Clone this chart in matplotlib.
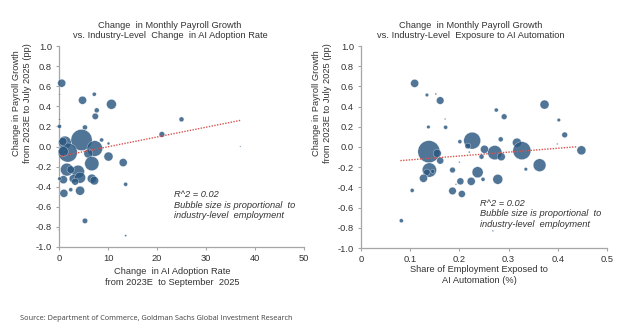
import matplotlib
matplotlib.use("Agg")
import matplotlib.pyplot as plt
import numpy as np

plt.rcParams['font.family'] = ['Liberation Sans', 'DejaVu Sans']

# ---------------- data ----------------
# Left panel: change in AI adoption rate (pp) vs change in payroll growth (pp)
adopt_x = [0.55, 4.8, 7.2, 10.7, 7.7, 7.4, 25.0, 21.0, 5.3, 0.1, 0.1, 0.1, 37.0,
           1.2, 4.6, 7.3, 1.8, 0.9, 6.0, 6.7, 1.6, 3.9, 10.1, 13.1, 6.7, 7.2, 0.9,
           2.9, 4.3, 2.4, 0.8, 8.7, 10.1, 0.1, 13.6, 1.0, 2.4, 4.3, 5.3, 13.6, 0.05, 3.3]
adopt_y = [0.63, 0.46, 0.52, 0.42, 0.36, 0.30, 0.27, 0.12, 0.19, 0.20, 0.27, 0.52, 0.0,
           0.04, 0.065, -0.02, -0.06, -0.05, -0.07, -0.17, -0.23, -0.25, -0.10, -0.16, -0.32, -0.34, -0.33,
           -0.32, -0.31, -0.23, 0.05, 0.065, 0.03, -0.32, -0.376, -0.466, -0.43, -0.44, -0.74, -0.887, -0.83, -0.35]
adopt_emp = [0.8, 0.8, 0.2, 1.2, 0.3, 0.5, 0.3, 0.4, 0.3, 0.2, 0.03, 0.03, 0.02,
             2.0, 5.5, 3.0, 4.5, 1.2, 1.0, 2.5, 2.0, 2.0, 1.0, 0.8, 1.0, 0.9, 0.8,
             0.8, 1.5, 0.7, 0.8, 0.2, 0.1, 0.15, 0.2, 0.8, 0.2, 1.0, 0.35, 0.05, 0.03, 0.6]
adopt_trend_x = [0.0, 37.0]
adopt_trend_y = [-0.10, 0.26]

# Right panel: share of employment exposed to AI automation vs change in payroll growth
expo_x = [0.109, 0.134, 0.152, 0.161, 0.171, 0.137, 0.172, 0.275, 0.291, 0.373, 0.402, 0.414,
          0.399, 0.448, 0.138, 0.226, 0.201, 0.217, 0.22, 0.251, 0.272, 0.285, 0.317, 0.327,
          0.284, 0.245, 0.155, 0.161, 0.20, 0.363, 0.139, 0.134, 0.127, 0.146, 0.186, 0.237,
          0.248, 0.224, 0.202, 0.193, 0.278, 0.186, 0.205, 0.104, 0.082, 0.268, 0.335]
expo_y = [0.63, 0.515, 0.525, 0.46, 0.277, 0.198, 0.195, 0.366, 0.30, 0.42, 0.267, 0.12,
          0.03, -0.033, -0.046, 0.063, 0.053, 0.01, -0.05, -0.023, -0.056, -0.096, 0.043, -0.036,
          0.076, -0.096, -0.063, -0.135, -0.15, -0.18, -0.228, -0.25, -0.31, -0.24, -0.228, -0.25,
          -0.32, -0.34, -0.34, -0.37, -0.32, -0.435, -0.465, -0.43, -0.73, -0.83, -0.22]
expo_emp = [0.8, 0.15, 0.04, 0.7, 0.03, 0.15, 0.2, 0.2, 0.4, 1.0, 0.15, 0.4,
            0.03, 1.0, 6.0, 3.5, 0.2, 0.4, 0.04, 0.8, 2.5, 0.8, 1.0, 4.0,
            0.3, 0.3, 0.8, 0.6, 0.03, 2.0, 2.5, 0.5, 0.8, 0.2, 0.4, 1.5,
            0.2, 0.8, 0.6, 0.03, 1.2, 0.7, 0.6, 0.2, 0.2, 0.03, 0.15]
expo_trend_x = [0.08, 0.44]
expo_trend_y = [-0.135, 0.003]

y_ticks = [1.0, 0.8, 0.6, 0.4, 0.2, 0.0, -0.2, -0.4, -0.6, -0.8, -1.0]
adopt_ticks = [0, 10, 20, 30, 40, 50]
expo_ticks = [0, 0.1, 0.2, 0.3, 0.4, 0.5]
expo_tick_labels = ['0', '0.1', '0.2', '0.3', '0.4', '0.5']

# ---------------- figure ----------------
W, H = 624, 332
fig = plt.figure(figsize=(W / 100, H / 100), dpi=100)
fig.patch.set_facecolor('white')

BUBBLE = '#2a5780'
TXT = '#333333'
SPINE = '#a6a6a6'
FS = 6.7
SCALE = 42


def fx(px):
    return px / W


def fy(py):
    return 1 - py / H


def style(ax, xlim, xticks, xlabels):
    ax.set_xlim(*xlim)
    ax.set_ylim(-1.0, 1.0)
    ax.set_yticks(y_ticks)
    ax.set_yticklabels([f'{v:.1f}' for v in y_ticks])
    ax.set_xticks(xticks)
    ax.set_xticklabels(xlabels)
    for s in ['top', 'right']:
        ax.spines[s].set_visible(False)
    for s in ['left', 'bottom']:
        ax.spines[s].set_color(SPINE)
        ax.spines[s].set_linewidth(0.9)
    ax.tick_params(axis='both', colors=SPINE, labelcolor=TXT, labelsize=FS,
                   length=2.5, width=0.8, pad=2.5)


ax1 = fig.add_axes([fx(59), fy(247), fx(245), (247 - 46) / H])
ax1.scatter(adopt_x, adopt_y, s=np.array(adopt_emp) * SCALE, color=BUBBLE, alpha=0.82,
            edgecolors='white', linewidths=0.25, zorder=3, clip_on=False)
ax1.plot(adopt_trend_x, adopt_trend_y, color='#d9534f', linestyle=(0, (1, 1)), lw=1.0, zorder=4)
style(ax1, (0, 50), adopt_ticks, [str(t) for t in adopt_ticks])

ax2 = fig.add_axes([fx(361), fy(248), fx(246), (248 - 46) / H])
ax2.scatter(expo_x, expo_y, s=np.array(expo_emp) * SCALE, color=BUBBLE, alpha=0.82,
            edgecolors='white', linewidths=0.25, zorder=3, clip_on=False)
ax2.plot(expo_trend_x, expo_trend_y, color='#d9534f', linestyle=(0, (1, 1)), lw=1.0, zorder=4)
style(ax2, (0, 0.5), expo_ticks, expo_tick_labels)

# titles
fig.text(fx(170), fy(25), 'Change  in Monthly Payroll Growth', ha='center', va='center',
         fontsize=FS, color=TXT)
fig.text(fx(170), fy(35), 'vs. Industry-Level  Change  in AI Adoption Rate', ha='center',
         va='center', fontsize=FS, color=TXT)
fig.text(fx(471), fy(25), 'Change  in Monthly Payroll Growth', ha='center', va='center',
         fontsize=FS, color=TXT)
fig.text(fx(471), fy(35), 'vs. Industry-Level  Exposure to AI Automation', ha='center',
         va='center', fontsize=FS, color=TXT)

# y labels
ylab = 'Change in Payroll Growth\nfrom 2023E to July 2025 (pp)'
fig.text(fx(22), fy(103), ylab, rotation=90, ha='center', va='center', fontsize=FS,
         color=TXT, linespacing=1.15)
fig.text(fx(322), fy(103), ylab, rotation=90, ha='center', va='center', fontsize=FS,
         color=TXT, linespacing=1.15)

# x labels
fig.text(fx(172), fy(277), 'Change  in AI Adoption Rate\nfrom 2023E  to September  2025',
         ha='center', va='center', fontsize=FS, color=TXT, linespacing=1.2)
fig.text(fx(479), fy(275), 'Share of Employment Exposed to\nAI Automation (%)',
         ha='center', va='center', fontsize=FS, color=TXT, linespacing=1.2)

# annotations
note = 'R^2 = 0.02\nBubble size is proportional  to\nindustry-level  employment'
fig.text(fx(174), fy(205), note, ha='left', va='center', fontsize=FS, color=TXT,
         style='italic', linespacing=1.2)
fig.text(fx(480), fy(214), note, ha='left', va='center', fontsize=FS, color=TXT,
         style='italic', linespacing=1.2)

# source
fig.text(fx(20), fy(318), 'Source: Department of Commerce, Goldman Sachs Global Investment Research',
         ha='left', va='center', fontsize=5.3, color='#404040', family=['Open Sans', 'DejaVu Sans'])

fig.savefig('out.png', dpi=100, facecolor='white')
